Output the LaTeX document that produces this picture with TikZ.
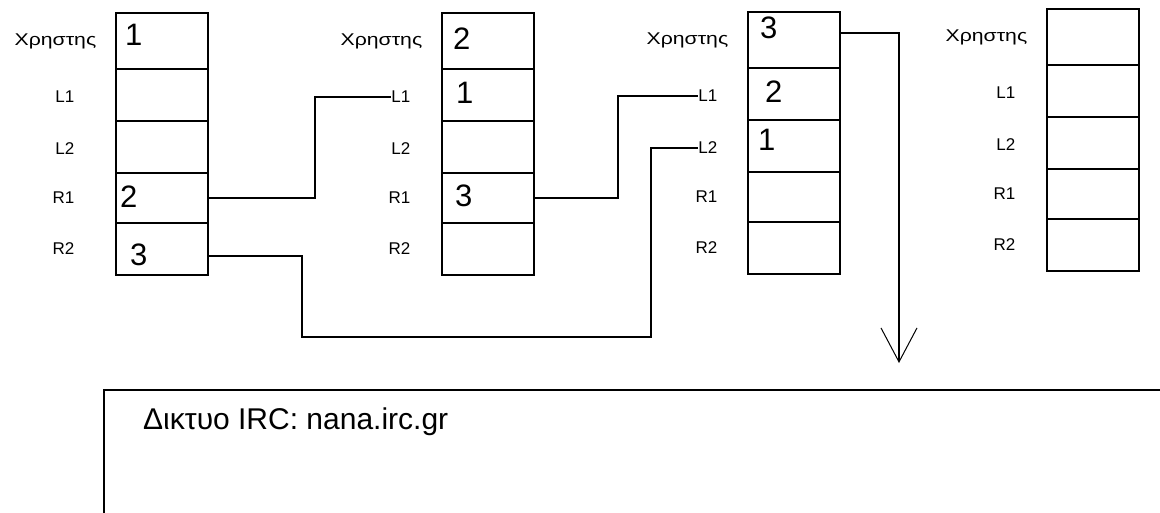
\documentclass[tikz,border=0pt]{standalone}
\usepackage{fontspec}
\setmainfont{Liberation Sans}
\usetikzlibrary{arrows.meta,positioning}

\begin{document}
\begin{tikzpicture}[x=1pt,y=-1pt,
      cell/.style={draw,line width=1.2pt,minimum width=92pt,inner sep=0pt,outer sep=0pt,
        anchor=north west},
      tag/.style={anchor=east,inner sep=0.5pt,font=\fontsize{17}{17}\selectfont},
      num/.style={anchor=west,inner sep=0pt,font=\fontsize{31}{31}\selectfont},
      wire/.style={line width=1.2pt}
    ]
      \useasboundingbox (0,0) rectangle (1160,513);
      \clip (0,0) rectangle (1160,513);
      % four user records
      \foreach \c/\x/\y/\g in {1/116/13/41,2/442/13/31,3/748/12/30,4/1047/9/31}{
        \node[cell,minimum height=56pt] (c\c-1) at (\x,\y) {};
        \node[cell,minimum height=52pt] (c\c-2) at (c\c-1.south west) {};
        \node[cell,minimum height=52pt] (c\c-3) at (c\c-2.south west) {};
        \node[cell,minimum height=50pt] (c\c-4) at (c\c-3.south west) {};
        \node[cell,minimum height=52pt] (c\c-5) at (c\c-4.south west) {};
        \node[tag] (t\c-1) at ([xshift=-19pt]c\c-1.west) {\scalebox{1.25}[1]{Χρηστης}};
        \node[tag] (t\c-2) at ([xshift=-\g pt,yshift=-2pt]c\c-2.west) {L1};
        \node[tag] (t\c-3) at ([xshift=-\g pt,yshift=-2pt]c\c-3.west) {L2};
        \node[tag] (t\c-4) at ([xshift=-\g pt]c\c-4.west) {R1};
        \node[tag] (t\c-5) at ([xshift=-\g pt]c\c-5.west) {R2};
      }
      \node[num] (n1-1) at (125,35) {1};
      \node[num] (n1-4) at (120,197) {2};
      \node[num] (n1-5) at (130,255) {3};
      \node[num] (n2-1) at (453,39) {2};
      \node[num] (n2-2) at (456,93) {1};
      \node[num] (n2-4) at (455,196) {3};
      \node[num] (n3-1) at (760,28) {3};
      \node[num] (n3-2) at (765,92) {2};
      \node[num] (n3-3) at (758,140) {1};
      % links
      \coordinate (dip) at (651,337);
      \coordinate (tip) at (899,363);
      \draw[wire] (c1-4.east) -- ++(107,0) |- (t2-2.west);
      \draw[wire] ([yshift=-7pt]c1-5.east) -- ++(94,0) |- (dip) |- (t3-3.west);
      \draw[wire] (c2-4.east) -- ++(84,0) |- (t3-2.west);
      \draw[wire,-{Straight Barb[length=34pt,width=36pt,line width=1pt]}]
        ([yshift=7pt]c3-1.east) -| (tip);
      % network
      \node[draw,line width=1.8pt,anchor=north west,minimum width=1200pt,
        minimum height=200pt] (net) at (103,389) {};
      \node[anchor=west,inner sep=0pt,font=\fontsize{30}{30}\selectfont] (nettext)
        at (143,422) {Δικτυο IRC: nana.irc.gr};
    \end{tikzpicture}
\end{document}
